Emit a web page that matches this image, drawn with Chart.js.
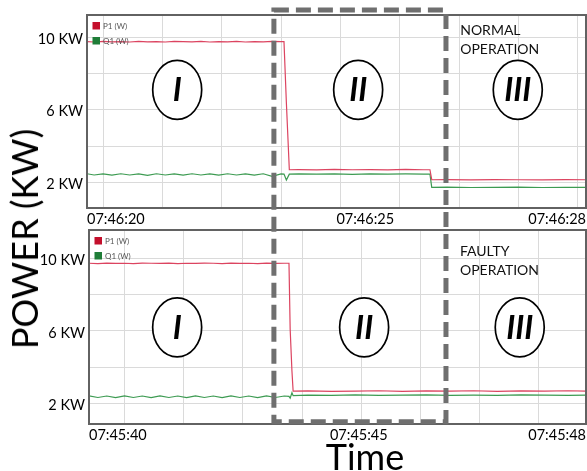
<!DOCTYPE html>
<html>
<head>
<meta charset="utf-8">
<script src="https://cdn.jsdelivr.net/npm/chart.js@4"></script>
<style>
  html, body { margin: 0; padding: 0; background: #fff; }
  #wrap { position: relative; width: 587px; height: 471px; overflow: hidden; font-family: Lato, sans-serif; }
  canvas { position: absolute; left: 0; }
  #topChart { top: 0; }
  #bottomChart { top: 224px; }
  #overlay { top: 0; pointer-events: none; }
  .big { position: absolute; font-size: 36px; line-height: 36px; color: #000; white-space: nowrap; }
  #ylab { left: 24px; top: 239px; transform: translate(-50%, -50%) rotate(-90deg); }
  #xlab { left: 365px; top: 438px; transform: translateX(-50%); }
</style>
</head>
<body>
<div id="wrap">
  <canvas id="topChart" width="587" height="228"></canvas>
  <canvas id="bottomChart" width="587" height="247"></canvas>
  <canvas id="overlay" width="587" height="471"></canvas>
  <div class="big" id="ylab">POWER (KW)</div>
  <div class="big" id="xlab">Time</div>
</div>
<script>
// time axis in seconds (one grid step = 1 s)
const topTime = [-0.27, -0.15, 0.00, 0.15, 0.30, 0.45, 0.60, 0.75, 0.90, 1.05, 1.20, 1.35, 1.50, 1.65, 1.80, 1.95, 2.10, 2.25, 2.40, 2.55, 2.70, 2.85, 3.00,
  3.05, 3.09, 3.14,
  3.30, 3.60, 3.90, 4.20, 4.50, 4.80, 5.10, 5.40,
  5.51, 5.54,
  5.80, 6.20, 6.60, 7.00, 7.40, 7.80, 8.14];
const topP1 = [9.76, 9.74, 9.77, 9.75, 9.76, 9.74, 9.77, 9.75, 9.76, 9.74, 9.77, 9.76, 9.75, 9.77, 9.74, 9.76, 9.75, 9.77, 9.74, 9.76, 9.75, 9.77, 9.76,
  9.76, 6.40, 2.69,
  2.70, 2.68, 2.71, 2.69, 2.70, 2.68, 2.71, 2.69,
  2.69, 2.14,
  2.15, 2.13, 2.15, 2.14, 2.13, 2.15, 2.14];
const topQ1 = [2.47, 2.40, 2.46, 2.39, 2.47, 2.40, 2.46, 2.38, 2.47, 2.40, 2.46, 2.39, 2.47, 2.40, 2.46, 2.39, 2.47, 2.40, 2.46, 2.39, 2.47, 2.33, 2.46,
  2.45, 2.12, 2.45,
  2.46, 2.45, 2.46, 2.44, 2.46, 2.45, 2.46, 2.45,
  2.45, 1.72,
  1.73, 1.71, 1.72, 1.73, 1.71, 1.72, 1.72];

const bottomTime = [-0.60, -0.45, -0.30, -0.15, 0.00, 0.15, 0.30, 0.45, 0.60, 0.75, 0.90, 1.05, 1.20, 1.35, 1.50, 1.65, 1.80, 1.95, 2.10, 2.25, 2.40, 2.55, 2.70,
  2.78, 2.80, 2.83, 2.85,
  3.10, 3.50, 3.90, 4.30, 4.70, 5.10, 5.50, 5.90, 6.30, 6.70, 7.10, 7.50, 7.80];
const bottomP1 = [9.73, 9.71, 9.74, 9.72, 9.73, 9.71, 9.74, 9.73, 9.72, 9.74, 9.71, 9.73, 9.72, 9.74, 9.73, 9.71, 9.74, 9.72, 9.73, 9.71, 9.74, 9.72, 9.73,
  9.73, 6.10, 3.80, 2.69,
  2.70, 2.68, 2.69, 2.71, 2.68, 2.70, 2.69, 2.71, 2.68, 2.70, 2.69, 2.71, 2.69];
const bottomQ1 = [2.43, 2.34, 2.42, 2.33, 2.43, 2.34, 2.42, 2.33, 2.43, 2.34, 2.42, 2.33, 2.43, 2.34, 2.42, 2.33, 2.43, 2.34, 2.42, 2.33, 2.43, 2.34, 2.42,
  2.40, 2.30, 2.60, 2.44,
  2.47, 2.46, 2.48, 2.46, 2.47, 2.48, 2.46, 2.47, 2.46, 2.48, 2.47, 2.46, 2.47];

const kwTicks = [2, 4, 6, 8, 10];
const kwLabels = { 2: "2 KW", 6: "6 KW", 10: "10 KW" };

const topGridTimes = [0, 1, 2, 3, 4, 5, 6, 7, 8];
const topLabelTimes = [-0.27, 4.42, 8.14];
const topLabels = ["07:46:20", "07:46:25", "07:46:28"];
const bottomGridTimes = [0, 1, 2, 3, 4, 5, 6, 7];
const bottomLabelTimes = [-0.60, 3.96, 7.80];
const bottomLabels = ["07:45:40", "07:45:45", "07:45:48"];

const stages = ["I", "II", "III"];
const topStageTimes = [1.25, 4.30, 6.99];
const bottomStageTimes = [0.89, 4.05, 6.68];

// dashed box around stage II
const boxTimes = [2.88, 5.78];
const boxTopKw = 11.5;
const boxBottomKw = 1.0;

const P1_LINE = "#dc4460";
const Q1_LINE = "#3d9b52";
const P1_KEY = "#c40f2c";
const Q1_KEY = "#1f7d38";
const GRID = "#dadada";

Chart.defaults.font.family = "Lato";
Chart.defaults.color = "#000";

function powerChart(canvas, o) {
  const decor = {
    id: "decor",
    afterDatasetsDraw(chart) {
      const { ctx, chartArea: a, scales: { x, y } } = chart;
      ctx.save();
      // stage ovals
      o.stageTimes.forEach((t, i) => {
        const cx = x.getPixelForValue(t), cy = y.getPixelForValue(o.stageKw);
        ctx.beginPath();
        ctx.ellipse(cx, cy, 24.5, 29.5, 0, 0, Math.PI * 2);
        ctx.fillStyle = "#fff";
        ctx.fill();
        ctx.lineWidth = 1.7;
        ctx.strokeStyle = "#000";
        ctx.stroke();
        ctx.fillStyle = "#000";
        ctx.font = "italic bold 32px Lato";
        ctx.textAlign = "center";
        ctx.textBaseline = "middle";
        ctx.fillText(stages[i], cx, cy + 1);
      });
      // operation label
      ctx.font = "14px Lato";
      ctx.textAlign = "left";
      ctx.textBaseline = "alphabetic";
      ctx.fillStyle = "#111";
      const ox = x.getPixelForValue(o.opTime), oy = y.getPixelForValue(o.opKw);
      ctx.fillText(o.opLines[0], ox, oy);
      ctx.fillText(o.opLines[1], ox, oy + 19);
      // legend
      ctx.font = "8px Lato";
      ctx.textBaseline = "middle";
      chart.data.datasets.forEach((ds, i) => {
        const ly = a.top + 7 + i * 15;
        ctx.fillStyle = i === 0 ? P1_KEY : Q1_KEY;
        ctx.fillRect(a.left + 5.5, ly, 7.5, 7.5);
        ctx.fillStyle = "#555";
        ctx.fillText(ds.label, a.left + 16, ly + 4);
      });
      // plot frame
      ctx.lineWidth = 2;
      ctx.strokeStyle = "#626262";
      ctx.strokeRect(a.left, a.top, a.right - a.left, a.bottom - a.top);
      ctx.restore();
    }
  };

  return new Chart(canvas, {
    type: "line",
    data: {
      datasets: [
        { label: "P1 (W)", data: o.time.map((t, i) => ({ x: t, y: o.p1[i] })), borderColor: P1_LINE, borderWidth: 1.2, pointRadius: 0 },
        { label: "Q1 (W)", data: o.time.map((t, i) => ({ x: t, y: o.q1[i] })), borderColor: Q1_LINE, borderWidth: 1.2, pointRadius: 0 }
      ]
    },
    options: {
      responsive: false,
      animation: false,
      events: [],
      layout: { padding: { top: o.padTop, right: 1, left: 0, bottom: 0 } },
      plugins: { legend: { display: false }, tooltip: { enabled: false } },
      scales: {
        x: {
          type: "linear",
          min: o.labelTimes[0],
          max: o.labelTimes[o.labelTimes.length - 1],
          afterBuildTicks: s => {
            s.ticks = o.gridTimes.concat(o.labelTimes).sort((a, b) => a - b).map(v => ({ value: v }));
          },
          afterFit: s => {
            s.height = o.xAxisH;
            s.paddingLeft = s.paddingRight = 0;
          },
          ticks: {
            autoSkip: false,
            maxRotation: 0,
            align: "inner",
            padding: 3,
            font: { size: 14.5 },
            callback: v => {
              const i = o.labelTimes.indexOf(v);
              return i >= 0 ? o.labels[i] : "";
            }
          },
          grid: {
            drawTicks: false,
            color: c => (c.tick && o.gridTimes.includes(c.tick.value)) ? GRID : "rgba(0,0,0,0)"
          },
          border: { display: false }
        },
        y: {
          min: o.yMin,
          max: o.yMax,
          afterBuildTicks: s => { s.ticks = kwTicks.map(v => ({ value: v })); },
          afterFit: s => {
            s.width = o.yAxisW;
            s.paddingTop = s.paddingBottom = 0;
          },
          ticks: {
            autoSkip: false,
            padding: 4,
            labelOffset: 2,
            font: { size: 14.5 },
            callback: v => kwLabels[v] || ""
          },
          grid: { drawTicks: false, color: GRID },
          border: { display: false }
        }
      }
    },
    plugins: [decor]
  });
}

const topChart = powerChart(document.getElementById("topChart"), {
  time: topTime, p1: topP1, q1: topQ1,
  gridTimes: topGridTimes, labelTimes: topLabelTimes, labels: topLabels,
  yMin: 0.58, yMax: 11.23, padTop: 15, yAxisW: 87, xAxisH: 20,
  stageTimes: topStageTimes, stageKw: 7.1,
  opTime: 6.02, opKw: 10.13, opLines: ["NORMAL", "OPERATION"]
});

const bottomChart = powerChart(document.getElementById("bottomChart"), {
  time: bottomTime, p1: bottomP1, q1: bottomQ1,
  gridTimes: bottomGridTimes, labelTimes: bottomLabelTimes, labels: bottomLabels,
  yMin: 0.88, yMax: 11.56, padTop: 6, yAxisW: 89, xAxisH: 47,
  stageTimes: bottomStageTimes, stageKw: 6.2,
  opTime: 5.67, opKw: 10.13, opLines: ["FAULTY", "OPERATION"]
});

// dashed frame spanning both panels
const ov = document.getElementById("overlay").getContext("2d");
const bx0 = topChart.scales.x.getPixelForValue(boxTimes[0]);
const bx1 = topChart.scales.x.getPixelForValue(boxTimes[1]);
const by0 = topChart.scales.y.getPixelForValue(boxTopKw);
const by1 = 224 + bottomChart.scales.y.getPixelForValue(boxBottomKw);
ov.setLineDash([15, 7]);
ov.lineWidth = 5;
ov.strokeStyle = "#6f6f6f";
ov.strokeRect(bx0, by0, bx1 - bx0, by1 - by0);
</script>
</body>
</html>
